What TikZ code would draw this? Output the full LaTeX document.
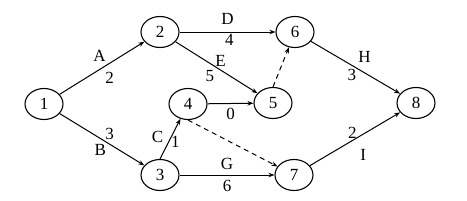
\documentclass[tikz,border=0pt]{standalone}
\usepackage{fontspec}
\setmainfont{Liberation Serif}
\usepackage{tikz}
\usetikzlibrary{arrows.meta,shapes.geometric}

\begin{document}
\begin{tikzpicture}[x=1pt, y=-1pt,
    event/.style={ellipse, draw, line width=1.1pt, minimum width=38pt, minimum height=31pt, inner sep=0pt, font=\fontsize{17}{20}\selectfont},
    act/.style={-{Stealth[length=6pt,width=4.5pt]}, line width=1pt},
    lbl/.style={font=\fontsize{17}{20}\selectfont, inner sep=1.5pt}]
  \useasboundingbox (0,0) rectangle (467,201);
  % draw event nodes
  \node[event] (n1) at (44,104) {1};
  \node[event] (n2) at (160,32) {2};
  \node[event] (n3) at (160,175) {3};
  \node[event] (n4) at (188,104) {4};
  \node[event] (n5) at (273,103) {5};
  \node[event] (n6) at (295,32) {6};
  \node[event] (n7) at (294,175) {7};
  \node[event] (n8) at (416,103) {8};
  % draw activities
  \draw[act] (n1) -- node[lbl, pos=0.47, above=6pt] {A} node[lbl, pos=0.59, below=7pt] {2} (n2);
  \draw[act] (n1) -- node[lbl, pos=0.48, below=4pt] {B} node[lbl, pos=0.59, above=2pt] {3} (n3);
  \draw[act] (n2) -- node[lbl, pos=0.5, above=5pt] {D} node[lbl, pos=0.52, below=0.5pt] {4} (n6);
  \draw[act] (n2) -- node[lbl, pos=0.55, above=1.5pt] {E} node[lbl, pos=0.42, below=5pt] {5} (n5);
  \draw[act] (n3.north) -- node[lbl, pos=0.55, left=6pt] {C} node[lbl, pos=0.42, right=0.5pt] {1} (n4);
  \draw[act] (n4) -- node[lbl, below=3pt] {0} (n5);
  \draw[act] (n3) -- node[lbl, above=3pt] {G} node[lbl, below=3pt] {6} (n7);
  \draw[act] (n6) -- node[lbl, pos=0.6, above=8pt] {H} node[lbl, pos=0.46, below=2pt] {3} (n8);
  \draw[act] (n7) -- node[lbl, pos=0.47, above=0pt] {2} node[lbl, pos=0.59, below=13pt] {I} (n8);
  % draw dummy activities
  \draw[act, dashed, dash pattern=on 5pt off 4pt] (n4.south) -- (n7);
  \draw[act, dashed, dash pattern=on 5pt off 4pt] (n5.north) -- (n6);
\end{tikzpicture}
\end{document}
